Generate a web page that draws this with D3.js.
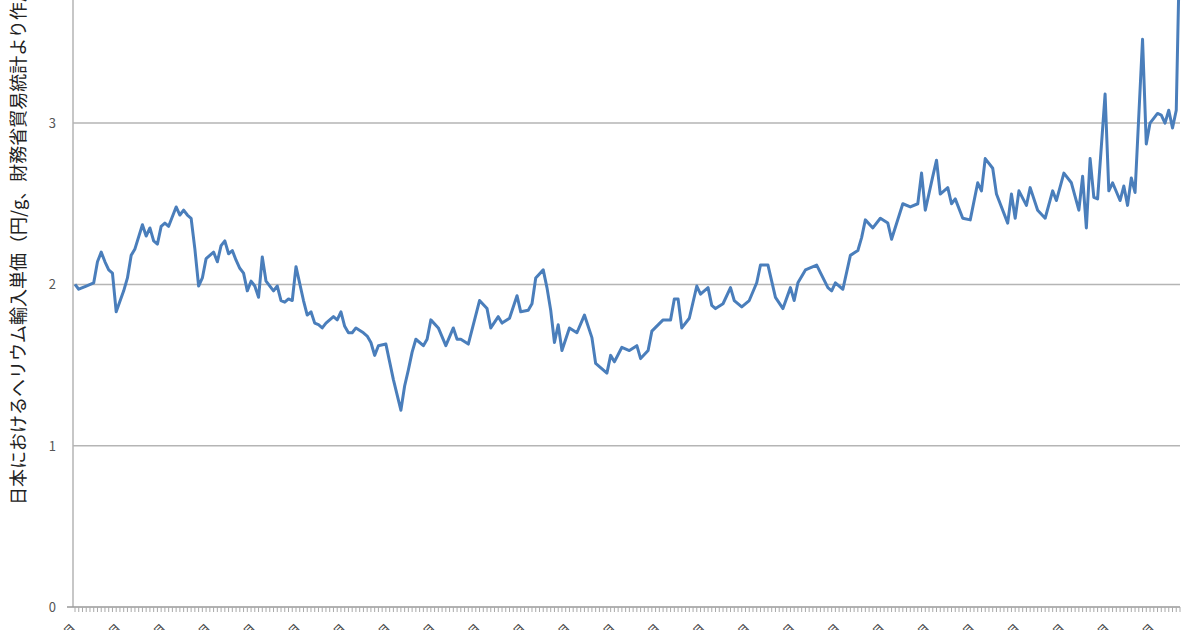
<!DOCTYPE html>
<html>
<head>
<meta charset="utf-8">
<script src="https://cdn.jsdelivr.net/npm/d3@7"></script>
<style>
body { margin: 0; background: #fff; }
svg { display: block; font-family: "Noto Sans CJK JP", "DejaVu Sans", sans-serif; }
</style>
</head>
<body>
<div id="chart"></div>
<script>
// month offset from start, import unit price (yen/g)
const months = [0,1,3,5,6,7,8,9,10,11,13,14,15,16,18,19,20,21,22,23,24,25,27,28,29,30,31,32,33,34,35,37,38,39,40,41,42,43,44,45,46,47,48,49,50,51,53,54,55,56,57,58,59,61,62,63,64,65,66,67,69,70,71,72,73,74,75,77,78,79,80,81,83,84,85,87,88,89,90,91,93,94,95,97,99,101,102,103,105,108,110,111,113,114,116,118,119,121,122,123,125,126,127,128,129,130,132,134,136,138,139,142,143,144,146,148,150,151,153,154,157,159,160,161,162,164,166,167,169,170,171,173,175,176,178,180,182,183,185,187,189,191,192,193,195,198,201,202,203,205,207,209,210,211,213,215,217,218,221,223,225,226,227,229,230,231,233,234,235,237,239,241,242,243,245,246,249,250,251,252,254,255,257,259,261,262,264,266,268,269,270,271,272,273,275,276,277,279,280,281,282,283,285,286,287,289,290,291,292,293,294,295];
const prices = [2.00,1.97,1.99,2.01,2.14,2.20,2.14,2.09,2.07,1.83,1.96,2.04,2.18,2.22,2.37,2.30,2.35,2.27,2.25,2.36,2.38,2.36,2.48,2.43,2.46,2.43,2.41,2.22,1.99,2.04,2.16,2.20,2.14,2.24,2.27,2.19,2.21,2.15,2.10,2.07,1.96,2.02,1.99,1.92,2.17,2.02,1.96,1.99,1.90,1.89,1.91,1.90,2.11,1.90,1.81,1.83,1.76,1.75,1.73,1.76,1.80,1.78,1.83,1.74,1.70,1.70,1.73,1.70,1.68,1.64,1.56,1.62,1.63,1.52,1.41,1.22,1.37,1.47,1.58,1.66,1.62,1.66,1.78,1.73,1.62,1.73,1.66,1.66,1.63,1.90,1.85,1.73,1.80,1.76,1.79,1.93,1.83,1.84,1.88,2.04,2.09,1.98,1.84,1.64,1.75,1.59,1.73,1.70,1.81,1.67,1.51,1.45,1.56,1.52,1.61,1.59,1.62,1.54,1.59,1.71,1.78,1.78,1.91,1.91,1.73,1.79,1.99,1.94,1.98,1.87,1.85,1.88,1.98,1.90,1.86,1.90,2.01,2.12,2.12,1.92,1.85,1.98,1.90,2.01,2.09,2.12,1.98,1.96,2.01,1.97,2.18,2.21,2.29,2.40,2.35,2.41,2.38,2.28,2.50,2.48,2.50,2.69,2.46,2.67,2.77,2.56,2.60,2.50,2.53,2.41,2.40,2.63,2.58,2.78,2.72,2.56,2.38,2.56,2.41,2.58,2.49,2.60,2.46,2.41,2.58,2.52,2.69,2.63,2.46,2.67,2.35,2.78,2.54,2.53,3.18,2.58,2.63,2.52,2.61,2.49,2.66,2.57,3.52,2.87,3.00,3.06,3.05,3.00,3.08,2.97,3.08,4.20];
const yTicks = [0, 1, 2, 3];
const yLabel = "日本におけるヘリウム輸入単価（円/g、財務省貿易統計より作成）";

const w = 1200, h = 630;
const x0 = 75, x1 = 1180, yBase = 607;

const svg = d3.select("#chart").append("svg").attr("width", w).attr("height", h);

const xScale = d3.scaleLinear().domain([0, 295]).range([x0, x1]);
const yScale = d3.scaleLinear().domain([0, 4]).range([yBase, yBase - 4 * 161.3]);

// gridlines
svg.selectAll("line.grid")
    .data(yTicks.filter(d => d > 0))
    .enter().append("line")
    .attr("x1", x0 - 2).attr("x2", x1)
    .attr("y1", d => yScale(d)).attr("y2", d => yScale(d))
    .attr("stroke", "#b5b5b5").attr("stroke-width", 1.5);

// y tick labels
svg.selectAll("text.ytick")
    .data(yTicks)
    .enter().append("text")
    .attr("x", 56).attr("y", d => yScale(d) + 5)
    .attr("text-anchor", "end")
    .attr("font-size", 13).attr("fill", "#555")
    .text(d => d);

// axes lines
svg.append("line").attr("x1", x0 - 2).attr("x2", x0 - 2).attr("y1", 0).attr("y2", yBase)
    .attr("stroke", "#b5b5b5").attr("stroke-width", 1.5);
svg.append("line").attr("x1", x0 - 8).attr("x2", x1).attr("y1", yBase).attr("y2", yBase)
    .attr("stroke", "#999").attr("stroke-width", 1.5);

// monthly minor ticks
svg.selectAll("line.mtick")
    .data(d3.range(0, 296))
    .enter().append("line")
    .attr("x1", d => xScale(d)).attr("x2", d => xScale(d))
    .attr("y1", yBase).attr("y2", yBase + 5)
    .attr("stroke", "#aaa").attr("stroke-width", 1);

// rotated year labels (mostly below the visible area, as in the source)
svg.selectAll("text.xlab")
    .data(d3.range(0, 296, 12))
    .enter().append("text")
    .attr("transform", d => `translate(${xScale(d) + 2},${yBase + 22}) rotate(-45)`)
    .attr("text-anchor", "end")
    .attr("font-size", 12).attr("fill", "#444")
    .text((d, i) => `${1990 + i}年1月`);

// y axis title
svg.append("text")
    .attr("transform", "translate(25,505) rotate(-90)")
    .attr("text-anchor", "start")
    .attr("font-size", 18).attr("fill", "#222")
    .text(yLabel);

const line = d3.line()
    .x((d, i) => xScale(months[i]))
    .y(d => yScale(d));

svg.append("path")
    .datum(prices)
    .attr("d", line)
    .attr("fill", "none")
    .attr("stroke", "#4a7ebb")
    .attr("stroke-width", 3)
    .attr("stroke-linejoin", "round");
</script>
</body>
</html>
